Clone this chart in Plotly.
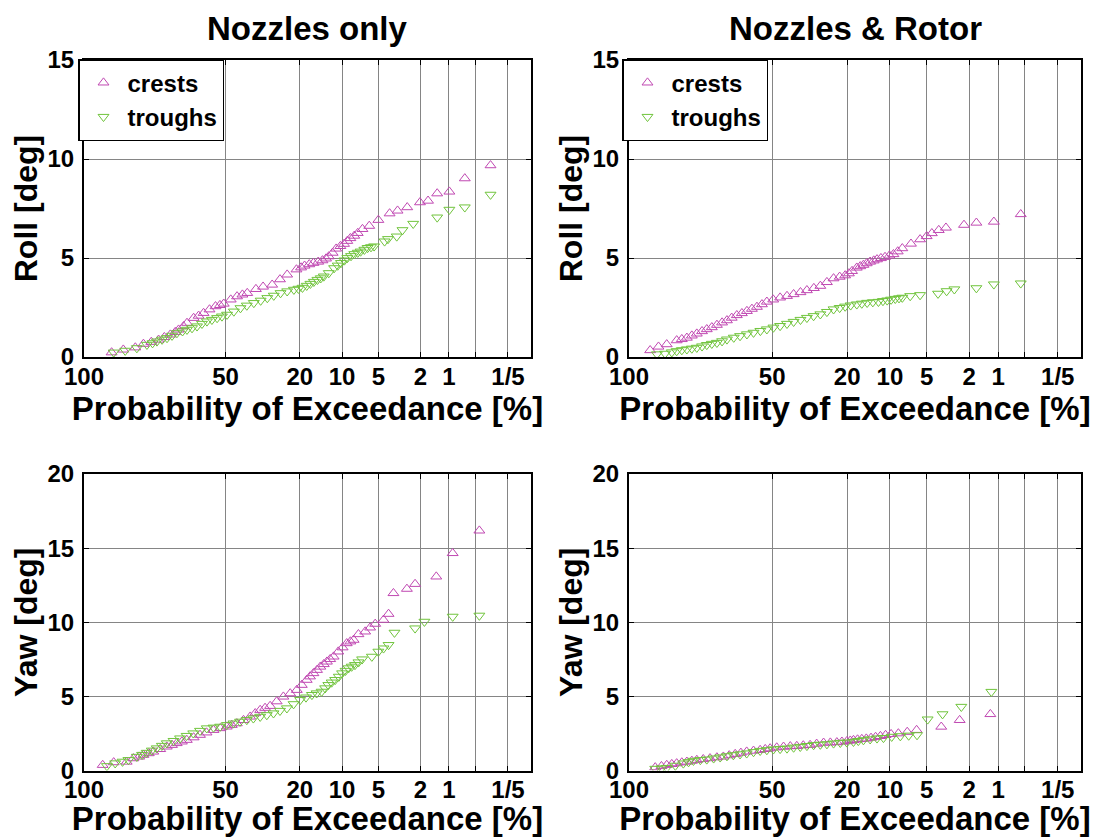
import numpy as np
import plotly.graph_objects as go

# ---------------- data (exceedance probability [%], value) ----------------
tick_pct = [100, 50, 20, 10, 5, 2, 1, 0.5, 0.2]
tick_txt = ["100", "50", "20", "10", "5", "2", "1", "", "1/5"]
p_min = 0.1

# Nozzles only - Roll
roll_n_crest_p = [97.4, 94.8, 91.3, 88.5, 85.5, 82.5, 80.0, 77.3, 75.0, 73.4, 71.0, 69.3, 66.0, 63.5, 61.0, 58.0, 55.0, 52.8,
                  50.9, 47.5, 44.5, 42.0, 39.8, 36.0, 33.0, 29.4, 26.5, 24.0, 21.0, 19.6, 18.6, 17.3, 16.2, 15.0, 14.0, 13.2,
                  12.6, 11.8, 11.1, 10.3, 9.65, 9.1, 8.6, 8.0, 7.5, 6.85, 6.0, 5.0, 3.96, 3.34, 2.70, 2.02, 1.67, 1.34,
                  0.99, 0.665, 0.33]
roll_n_crest_v = [0.23, 0.37, 0.48, 0.66, 0.76, 0.87, 1.00, 1.13, 1.26, 1.38, 1.55, 1.72, 1.97, 2.08, 2.22, 2.40, 2.56, 2.62,
                  2.69, 2.90, 3.06, 3.15, 3.23, 3.43, 3.55, 3.65, 3.92, 4.16, 4.42, 4.52, 4.61, 4.68, 4.75, 4.81, 4.88, 4.97,
                  5.08, 5.26, 5.47, 5.60, 5.71, 5.86, 6.00, 6.12, 6.26, 6.46, 6.62, 6.92, 7.25, 7.39, 7.56, 7.81, 7.89, 8.26,
                  8.35, 9.02, 9.68]
roll_n_trough_p = [97.0, 94.3, 90.8, 87.2, 85.0, 83.2, 81.0, 78.8, 76.5, 74.2, 71.5, 69.3, 66.8, 64.3, 61.8, 59.3, 56.8, 54.2,
                   51.8, 49.3, 46.0, 42.9, 40.0, 36.9, 34.0, 31.3, 28.8, 26.3, 24.0, 21.8, 20.4, 19.2, 18.0, 17.0, 16.1,
                   15.2, 14.4, 13.7, 12.6, 11.5, 10.8, 10.2, 9.6, 9.1, 8.5, 8.0, 7.5, 7.1, 6.6, 6.2, 5.8, 5.45, 4.4, 4.1,
                   3.4, 3.0, 2.36, 1.34, 0.99, 0.665, 0.33]
roll_n_trough_v = [0.23, 0.32, 0.45, 0.62, 0.70, 0.79, 0.88, 0.96, 1.08, 1.21, 1.30, 1.38, 1.46, 1.55, 1.68, 1.80, 1.88, 1.97,
                   2.05, 2.14, 2.30, 2.47, 2.60, 2.73, 2.85, 2.98, 3.10, 3.23, 3.32, 3.40, 3.45, 3.50, 3.60, 3.70, 3.80,
                   3.90, 3.98, 4.07, 4.24, 4.49, 4.62, 4.75, 4.88, 5.00, 5.10, 5.20, 5.27, 5.33, 5.42, 5.51, 5.55, 5.59, 5.84,
                   5.96, 6.09, 6.41, 6.73, 7.05, 7.44, 7.56, 8.20]

# Nozzles & Rotor - Roll
roll_r_crest_p = [98.5, 97.1, 95.3, 92.6, 91.0, 89.3, 87.5, 85.6, 83.5, 81.5, 79.3, 77.0, 74.6, 72.3, 70.0, 67.5, 65.0,
                  62.5, 60.0, 57.5, 55.0, 52.6, 49.5, 46.2, 43.0, 40.0, 37.0, 34.3, 31.5, 29.0, 26.6, 24.3, 22.3, 20.6,
                  19.5, 18.6, 17.3, 16.4, 15.6, 14.8, 14.0, 13.2, 12.5, 11.7, 10.9, 10.1, 9.4, 8.7, 8.0, 6.8, 5.7, 5.0,
                  4.5, 3.9, 3.35, 2.25, 1.69, 1.11, 0.558]
roll_r_crest_v = [0.34, 0.52, 0.64, 0.84, 0.90, 0.97, 1.08, 1.18, 1.30, 1.40, 1.50, 1.62, 1.74, 1.85, 1.98, 2.11, 2.21,
                  2.32, 2.43, 2.53, 2.66, 2.79, 2.90, 3.00, 3.08, 3.17, 3.27, 3.37, 3.48, 3.59, 3.78, 3.97, 4.05, 4.12,
                  4.22, 4.34, 4.51, 4.58, 4.65, 4.73, 4.81, 4.87, 4.93, 4.99, 5.05, 5.12, 5.19, 5.33, 5.49, 5.72, 5.94, 6.10,
                  6.25, 6.41, 6.53, 6.67, 6.78, 6.83, 7.21]
roll_r_trough_p = [97.4, 95.7, 94.0, 92.6, 91.0, 89.3, 87.5, 85.6, 83.5, 81.5, 79.3, 77.0, 74.6, 72.3, 69.0, 65.9, 62.5,
                   59.2, 55.8, 52.6, 49.4, 46.2, 43.0, 40.0, 37.0, 34.3, 31.6, 29.0, 26.6, 24.3, 22.3, 20.6, 19.0, 17.3,
                   16.0, 14.7, 13.4, 12.2, 11.3, 10.5, 9.8, 9.1, 8.5, 8.0, 6.9, 5.7, 3.96, 3.3, 2.79, 1.69, 1.11, 0.558]
roll_r_trough_v = [0.14, 0.17, 0.24, 0.30, 0.35, 0.39, 0.43, 0.47, 0.54, 0.61, 0.67, 0.72, 0.80, 0.89, 0.98, 1.06, 1.15,
                   1.23, 1.32, 1.40, 1.49, 1.57, 1.68, 1.78, 1.88, 1.98, 2.07, 2.16, 2.28, 2.41, 2.48, 2.55, 2.61, 2.66,
                   2.70, 2.74, 2.77, 2.79, 2.83, 2.86, 2.90, 2.94, 2.97, 3.00, 3.08, 3.13, 3.20, 3.33, 3.42, 3.48, 3.67, 3.72]

# Nozzles only - Yaw
yaw_n_crest_p = [98.8, 97.0, 93.9, 91.9, 90.0, 88.5, 86.5, 84.7, 81.8, 78.9, 76.5, 74.3, 71.8, 69.4, 66.0, 62.8, 59.5, 56.0,
                 52.6, 49.4, 47.0, 44.6, 41.5, 38.5, 36.3, 34.2, 32.2, 30.2, 27.7, 25.3, 23.0, 20.9, 19.4, 18.0, 17.1, 16.2,
                 15.3, 14.5, 13.7, 13.0, 12.3, 11.6, 10.7, 9.9, 9.2, 8.6, 8.1, 7.4, 6.5, 5.9, 5.33, 4.5, 4.05, 3.65, 2.72,
                 2.26, 1.37, 0.91, 0.45]
yaw_n_crest_v = [0.37, 0.55, 0.59, 0.82, 0.93, 1.05, 1.16, 1.27, 1.44, 1.61, 1.72, 1.84, 1.95, 2.06, 2.23, 2.40, 2.56, 2.73,
                 2.85, 2.96, 3.07, 3.18, 3.40, 3.63, 3.86, 4.08, 4.22, 4.35, 4.66, 4.98, 5.20, 5.43, 5.77, 6.11, 6.34, 6.56,
                 6.78, 7.00, 7.17, 7.34, 7.51, 7.68, 8.02, 8.30, 8.58, 8.70, 8.81, 9.19, 9.37, 9.64, 9.89, 10.16, 10.56,
                 11.96, 12.25, 12.58, 13.08, 14.66, 16.18]
yaw_n_trough_p = [98.2, 96.7, 95.0, 93.4, 90.8, 89.0, 87.3, 85.3, 83.3, 81.1, 78.9, 75.8, 72.7, 69.5, 66.2, 62.8, 59.4, 56.0,
                  52.7, 49.4, 46.2, 43.1, 40.0, 37.1, 34.2, 31.5, 28.9, 26.5, 24.1, 21.9, 19.9, 18.2, 16.6, 15.4, 14.2,
                  13.4, 12.7, 12.0, 11.3, 10.6, 10.0, 9.4, 8.9, 8.4, 7.9, 7.4, 6.9, 5.7, 5.0, 4.5, 4.05, 3.57, 2.26, 1.82,
                  0.91, 0.45]
yaw_n_trough_v = [0.30, 0.49, 0.60, 0.71, 0.93, 1.06, 1.20, 1.35, 1.50, 1.67, 1.84, 2.00, 2.17, 2.34, 2.51, 2.68, 2.85, 2.90,
                  2.96, 3.07, 3.18, 3.30, 3.41, 3.52, 3.63, 3.74, 3.86, 4.03, 4.20, 4.48, 4.76, 4.93, 5.10, 5.21, 5.32,
                  5.55, 5.77, 5.94, 6.11, 6.33, 6.56, 6.73, 6.90, 7.01, 7.12, 7.30, 7.50, 7.68, 8.02, 8.24, 8.47, 9.30,
                  9.59, 10.04, 10.38, 10.45]

# Nozzles & Rotor - Yaw
yaw_r_crest_p = [97.7, 96.5, 95.3, 94.0, 92.6, 91.0, 89.3, 87.5, 85.6, 83.0, 80.1, 77.0, 74.0, 71.2, 68.3, 65.5, 62.6,
                 59.2, 55.9, 53.4, 51.0, 47.8, 44.6, 41.5, 38.6, 35.8, 33.0, 30.4, 27.8, 25.4, 23.2, 21.6, 20.1, 19.1,
                 18.2, 17.1, 16.0, 14.9, 13.8, 12.8, 11.8, 10.8, 9.8, 8.6, 7.3, 6.1, 3.7, 2.48, 1.21]
yaw_r_crest_v = [0.21, 0.29, 0.37, 0.43, 0.48, 0.54, 0.59, 0.65, 0.71, 0.76, 0.82, 0.88, 0.93, 1.02, 1.11, 1.19, 1.27,
                 1.33, 1.38, 1.44, 1.49, 1.55, 1.60, 1.63, 1.65, 1.69, 1.72, 1.80, 1.87, 1.88, 1.90, 1.94, 1.97, 2.01,
                 2.05, 2.09, 2.12, 2.15, 2.20, 2.26, 2.32, 2.39, 2.45, 2.50, 2.60, 2.73, 2.95, 3.40, 3.80]
yaw_r_trough_p = [97.7, 96.5, 95.3, 93.0, 90.5, 88.7, 86.9, 84.2, 81.5, 78.5, 75.5, 72.3, 69.2, 65.9, 62.6, 59.2, 55.9,
                  52.6, 49.4, 46.2, 43.0, 40.0, 37.1, 34.3, 31.6, 29.0, 26.6, 24.3, 22.1, 20.1, 18.2, 16.9, 15.6, 14.0,
                  12.5, 11.2, 9.7, 8.3, 7.1, 6.05, 4.9, 3.6, 2.39, 1.18]
yaw_r_trough_v = [0.12, 0.15, 0.18, 0.33, 0.48, 0.57, 0.66, 0.71, 0.75, 0.82, 0.89, 0.97, 1.04, 1.10, 1.16, 1.25, 1.33,
                  1.38, 1.43, 1.46, 1.49, 1.55, 1.60, 1.66, 1.72, 1.75, 1.78, 1.83, 1.87, 1.90, 1.94, 2.00, 2.05, 2.11,
                  2.17, 2.20, 2.28, 2.32, 2.36, 2.39, 3.45, 3.80, 4.30, 5.31]

titles = ["Nozzles only", "Nozzles & Rotor"]
ylabels = ["Roll [deg]", "Yaw [deg]"]
xlabel = "Probability of Exceedance [%]"
series_names = ["crests", "troughs"]

# ---------------- styling ----------------
CREST = "rgb(192,72,178)"
TROUGH = "rgb(112,196,60)"
FONT = "Liberation Sans, Arial, sans-serif"
W, H = 1102, 837


def ray(p_pct):
    """Rayleigh probability-paper coordinate."""
    p = np.asarray(p_pct, dtype=float) / 100.0
    return np.sqrt(-np.log(p))


# panel pixel boxes (left, right, top, bottom)
boxes = [(84, 531, 60, 357), (629, 1081, 60, 357), (84, 531, 474, 770.5), (629, 1081, 474, 770.5)]
yranges = [[0, 15], [0, 15], [0, 20], [0, 20]]
ytickv = [[0, 5, 10, 15], [0, 5, 10, 15], [0, 5, 10, 15, 20], [0, 5, 10, 15, 20]]

panels = [
    (roll_n_crest_p, roll_n_crest_v, roll_n_trough_p, roll_n_trough_v),
    (roll_r_crest_p, roll_r_crest_v, roll_r_trough_p, roll_r_trough_v),
    (yaw_n_crest_p, yaw_n_crest_v, yaw_n_trough_p, yaw_n_trough_v),
    (yaw_r_crest_p, yaw_r_crest_v, yaw_r_trough_p, yaw_r_trough_v),
]

fig = go.Figure()
layout = dict(
    width=W, height=H, margin=dict(l=0, r=0, t=0, b=0, autoexpand=False),
    paper_bgcolor="white", plot_bgcolor="white",
    font=dict(family=FONT, size=24, color="black"),
    showlegend=True,
)

for i, (cp, cv, tp, tv) in enumerate(panels):
    k = "" if i == 0 else str(i + 1)
    legend_name = "legend" if i == 0 else ("legend2" if i == 1 else None)
    show = i < 2
    for (pp, vv, name, sym, col) in [(cp, cv, series_names[0], "triangle-up-open", CREST),
                                     (tp, tv, series_names[1], "triangle-down-open", TROUGH)]:
        tr = go.Scatter(
            x=ray(pp), y=vv, mode="markers", name="<b>" + name + "</b>",
            marker=dict(symbol=sym, size=9.5, color=col, line=dict(width=1, color=col)),
            xaxis="x" + k, yaxis="y" + k, showlegend=show, hoverinfo="skip",
        )
        if legend_name:
            tr.legend = legend_name
        fig.add_trace(tr)

    l, r, t, b = boxes[i]
    common = dict(showline=True, linewidth=2, linecolor="black", mirror="ticks",
                  ticks="inside", ticklen=5, tickwidth=1, tickcolor="black",
                  showgrid=True, gridcolor="#858585", gridwidth=1, zeroline=False,
                  automargin=False,
                  tickfont=dict(family=FONT, size=24, color="black"))
    layout["xaxis" + k] = dict(
        common, domain=[l / W, r / W], anchor="y" + k, range=[0, float(ray([p_min])[0])],
        tickmode="array", tickvals=list(ray(tick_pct)),
        ticktext=["<b>" + s + "</b>" if s else "" for s in tick_txt],
        title=dict(text="<b>" + xlabel + "</b>", font=dict(family=FONT, size=33), standoff=0),
        ticklabelstandoff=-3,
    )
    layout["yaxis" + k] = dict(
        common, domain=[1 - b / H, 1 - t / H], anchor="x" + k, range=yranges[i],
        tickmode="array", tickvals=ytickv[i], ticktext=["<b>" + str(v) + "</b>" for v in ytickv[i]],
        title=dict(text="<b>" + ylabels[i // 2] + "</b>", font=dict(family=FONT, size=32), standoff=0),
        ticklabelstandoff=3,
    )

legend_style = dict(bgcolor="white", bordercolor="black", borderwidth=1.5,
                    font=dict(family=FONT, size=24, color="black"),
                    xanchor="left", yanchor="top", tracegroupgap=0, itemwidth=38)
layout["legend"] = dict(legend_style, x=78 / W, y=1 - 59 / H)
layout["legend2"] = dict(legend_style, x=622 / W, y=1 - 59 / H)

annotations = []
for j, ttl in enumerate(titles):
    l, r, t, b = boxes[j]
    annotations.append(dict(text="<b>" + ttl + "</b>", x=(l + r) / 2 / W, y=1 - 28 / H,
                            xref="paper", yref="paper", xanchor="center", yanchor="middle",
                            showarrow=False, font=dict(family=FONT, size=33, color="black")))
layout["annotations"] = annotations

fig.update_layout(**layout)
fig.write_html("out.html")
